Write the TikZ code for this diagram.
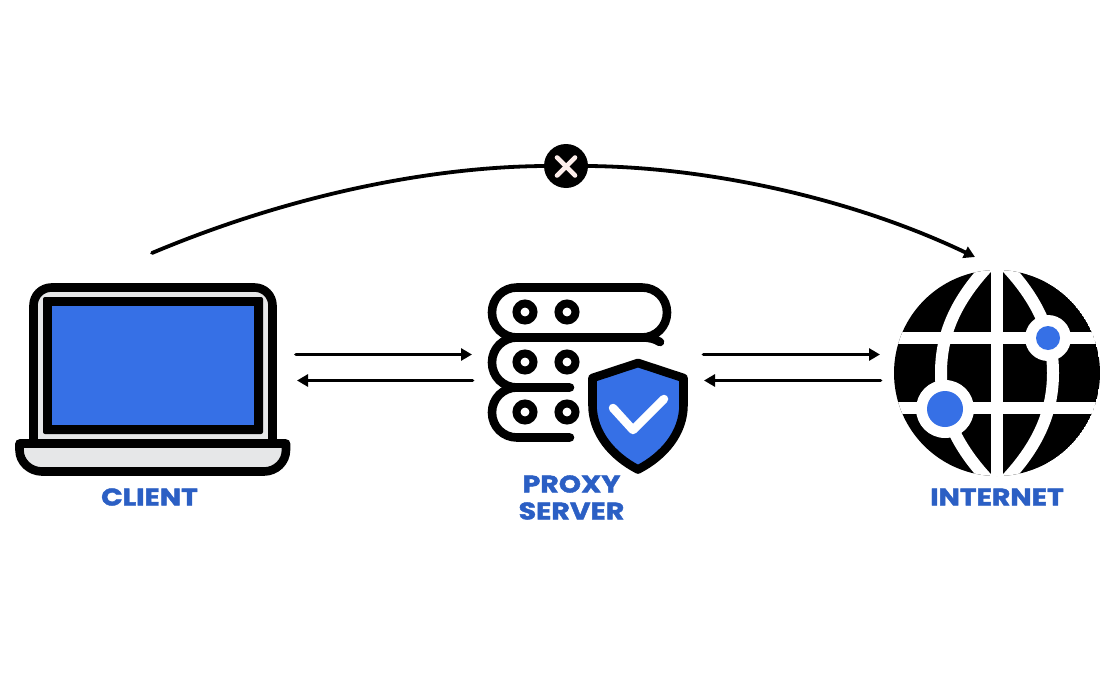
\documentclass[tikz,border=0pt]{standalone}
\usepackage{fontspec}
\usepackage{xcolor}
\setmainfont{Poppins}[BoldFeatures={FakeBold=1.8,FakeStretch=1.18}]
\usetikzlibrary{arrows.meta}
\definecolor{iconblue}{HTML}{3670E6}
\definecolor{labelblue}{HTML}{2B5FC4}
\definecolor{iconGray}{HTML}{E6E7E8}
\definecolor{crossPink}{HTML}{FCEDEA}
\tikzset{
  connector/.style={line width=3.8pt,line cap=round,-{Triangle[length=11pt,width=12pt]}},
  bare/.style={line width=3.8pt,line cap=round},
  iconline/.style={line width=8.6pt,line cap=round,line join=round},
  caption/.style={font=\fontsize{24}{27}\selectfont\bfseries,text=labelblue,align=center,inner sep=0pt},
  led/.style={line width=8pt,draw=black,fill=white},
  parallel/.style={white,line width=12pt},
}
\begin{document}
\begin{tikzpicture}[x=1pt,y=-1pt]
\useasboundingbox(0,0)rectangle(1112,680);
\draw[iconline,fill=iconGray,rounded corners=18pt](33.5,444)--(33.5,287.5)--(272.5,287.5)--(272.5,444);
\fill[rounded corners=2pt](43,297)rectangle(263,434);
\fill[iconblue](52,306)rectangle(254,425);
\draw[iconline,fill=iconGray](19.5,443.5)--(286,443.5)--(286,450)..controls(286,462)and(276,471.5)..(264,471.5)--(42,471.5)..controls(30,471.5)and(19.5,462)..(19.5,450)--cycle;
\node[caption](clientLabel)at(149.5,497){CLIENT};
\draw[iconline](517,287.5)--(642,287.5)..controls(656,287.5)and(667,298.5)..(667,312.5)..controls(667,326.5)and(656,337.5)..(642,337.5)--(517,337.5)..controls(503,337.5)and(492,326.5)..(492,312.5)..controls(492,298.5)and(503,287.5)..(517,287.5)--cycle;
\draw[iconline](642,337.5)..controls(650,337.5)and(655,339)..(660,342);
\draw[iconline](517,337.5)..controls(503,337.5)and(492,348.5)..(492,362.5)..controls(492,376.5)and(503,387.5)..(517,387.5)--(570,387.5);
\draw[iconline](517,387.5)..controls(503,387.5)and(492,398.5)..(492,412.5)..controls(492,426.5)and(503,437.5)..(517,437.5)--(570,437.5);
\foreach \ledy in {312,362,412}{
\draw[led](525,\ledy)circle[radius=8.5];
\draw[led](567,\ledy)circle[radius=8.5];
}
\draw[iconline,fill=iconblue](638,363)--(683.5,378)--(683.5,405)..controls(683.5,433)and(664,456)..(638,469.5)..controls(612,456)and(592.5,433)..(592.5,405)--(592.5,378)--cycle;
\draw[line width=8.5pt,white,line cap=round,line join=round](613,408)--(633,430)--(664,399);
\node[caption](proxyLabel)at(571.5,497.5){PROXY\\SERVER};
\begin{scope}
\clip(997,373)circle[radius=103];
\fill(997,373)circle[radius=103];
\draw[parallel](997,260)--(997,486);
\draw[parallel](880,338)--(1112,338);
\draw[parallel](880,408)--(1112,408);
\draw[parallel](992,262)..controls(955,300)and(941,335)..(941,373)..controls(941,411)and(955,446)..(992,484);
\draw[parallel](1002,262)..controls(1039,300)and(1053,335)..(1053,373)..controls(1053,411)and(1039,446)..(1002,484);
\fill[white](945,409)circle[radius=29];
\fill[white](1048,338)circle[radius=23];
\end{scope}
\fill[iconblue](945,409)circle[radius=18];
\fill[iconblue](1048,338)circle[radius=12];
\node[caption](internetLabel)at(997,497){INTERNET};
\coordinate(clientOut)at(296,354.5);
\coordinate(proxyIn)at(472,354.5);
\coordinate(proxyBack)at(472.5,380.5);
\coordinate(clientIn)at(297,380.5);
\coordinate(proxyOut)at(703.5,354.5);
\coordinate(netIn)at(880,354.5);
\coordinate(netBack)at(880.5,380.5);
\coordinate(proxyRet)at(704,380.5);
\coordinate(arcStart)at(152,253);
\coordinate(arcEnd)at(975,257);
\draw[connector](clientOut)--(proxyIn);
\draw[connector](proxyBack)--(clientIn);
\draw[connector](proxyOut)--(netIn);
\draw[connector](netBack)--(proxyRet);
\node[circle,fill=black,minimum size=44pt,inner sep=0pt](blocked)at(566,166){};
\draw[bare](arcStart)..controls(290,195)and(430,167)..(blocked.west);
\draw[connector](blocked.east)..controls(700,167)and(845,195)..(arcEnd);
\draw[crossPink,line width=4.6pt,line cap=round](557,157.5)--(575,175.5);
\draw[crossPink,line width=4.6pt,line cap=round](575,157.5)--(557,175.5);
\end{tikzpicture}
\end{document}
